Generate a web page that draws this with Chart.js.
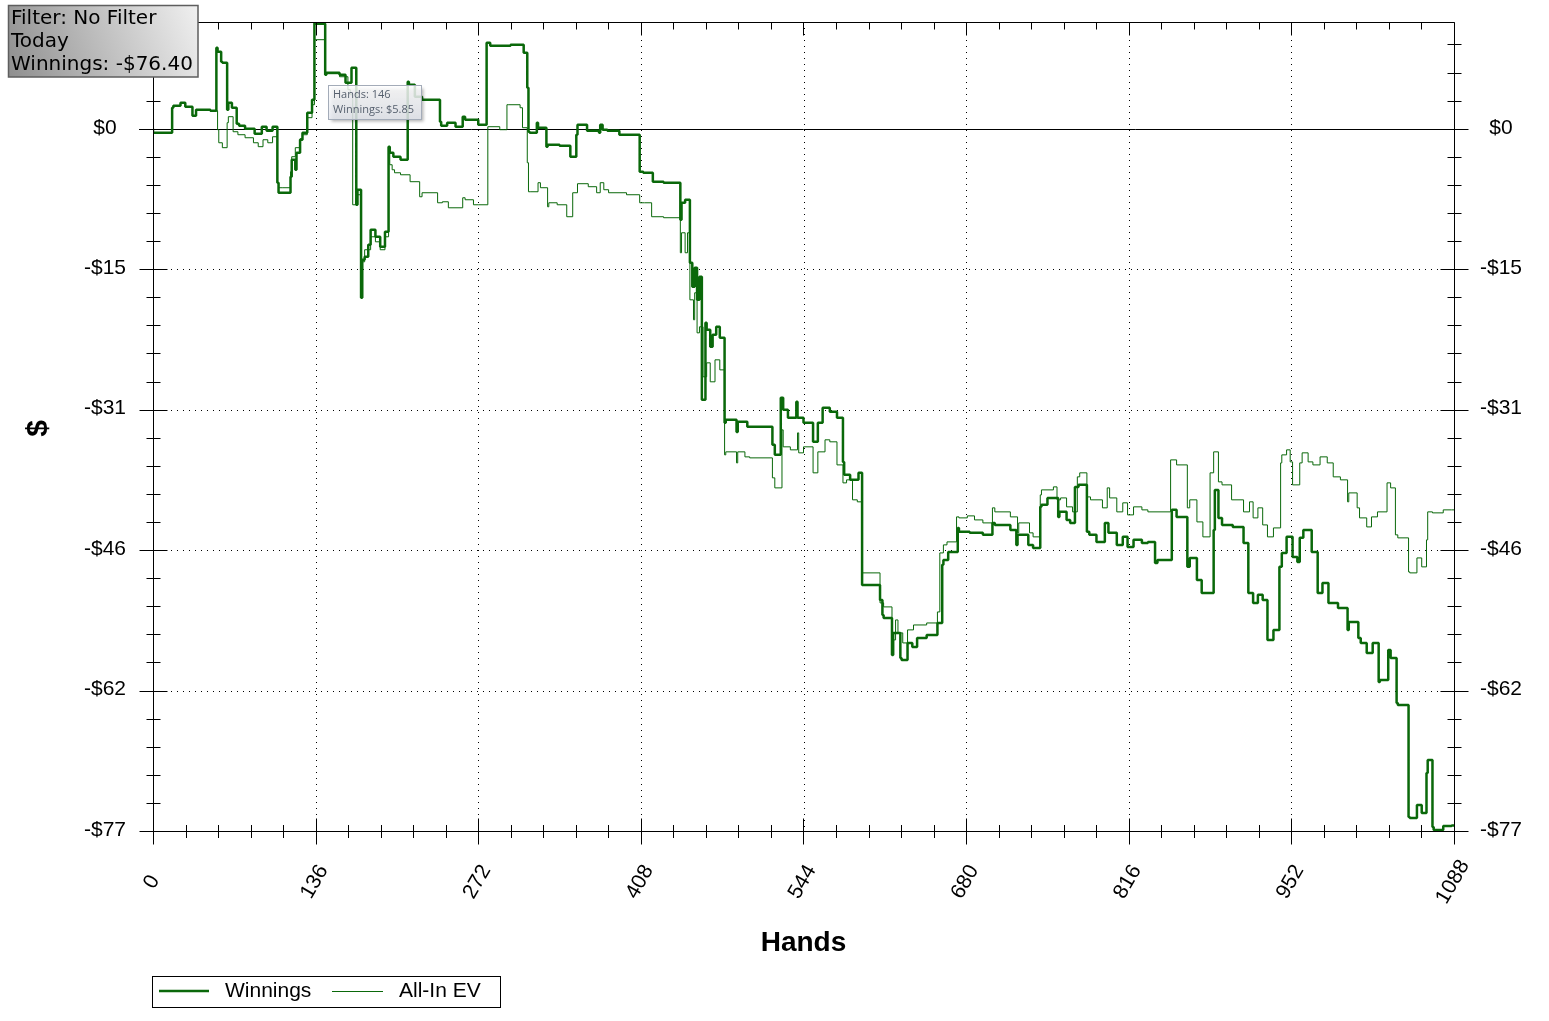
<!DOCTYPE html>
<html>
<head>
<meta charset="utf-8">
<title>Winnings</title>
<script src="https://cdn.jsdelivr.net/npm/chart.js@4.4.0/dist/chart.umd.min.js"></script>
<style>
  html, body { margin: 0; padding: 0; background: #fff; overflow: hidden; }
  canvas { display: block; }
</style>
</head>
<body>
<canvas id="grafico" width="1549" height="1021"></canvas>
<script>
// Hands / dollars
const winHands = [0,6,16,17,23,27,33,36,39,48,53,54,57,58,62,63,66,70,72,77,85,91,95,100,104,105,108,115,116,119,120,123,125,129,133,135,136,144,145,156,161,163,166,167,170,171,174,175,177,180,182,186,190,194,197,198,201,207,213,214,219,225,240,241,246,253,259,261,272,279,282,290,299,310,313,314,315,321,322,329,330,340,349,350,354,355,363,373,374,376,380,390,407,410,418,427,441,442,445,449,451,453,455,457,459,462,463,466,468,471,474,478,479,488,489,497,518,520,525,527,531,538,539,544,552,556,560,566,572,577,578,583,590,593,593,608,610,611,618,619,625,626,631,635,639,647,656,660,661,665,673,674,683,694,702,704,717,722,723,732,736,742,743,748,757,758,764,767,771,774,781,783,789,796,799,806,811,815,820,827,832,838,840,852,856,865,867,873,877,884,887,888,891,894,903,912,916,920,924,928,932,937,942,944,948,953,957,959,962,966,969,974,978,983,991,999,1000,1008,1010,1015,1020,1025,1026,1033,1035,1040,1041,1050,1051,1057,1061,1065,1066,1070,1071,1079,1086,1088];
const winValues = [0,-0.44,-0.44,2.30,2.52,2.85,2.41,1.43,2.08,2.08,1.97,8.88,8.45,7.35,7.24,2.08,2.85,2.30,0.55,0.33,0,-0.55,0.22,-0.22,0.22,-5.92,-7.02,-7.02,-5.27,-3.40,-4.50,-2.63,-1.21,-0.44,1.76,3.18,11.63,11.52,5.92,6.14,5.92,5.05,5.05,6.69,6.69,-8.34,-6.69,-18.54,-14.37,-14.04,-12.72,-11.08,-11.85,-12.94,-11.30,-1.97,-2.63,-3.07,-3.40,5.16,4.83,3.51,3.18,0.77,0.33,0.66,0.22,1.32,0.99,0.44,9.43,9.10,9.10,9.21,8.34,4.50,-0.33,-0.44,0.66,0.11,-1.97,-1.76,-1.86,-3.07,-3.07,-0.66,0.44,-0.22,-0.44,0.44,-0.11,-0.22,-0.66,-4.72,-4.83,-5.81,-5.92,-9.98,-8.12,-7.79,-14.70,-17.33,-15.25,-18.76,-16.23,-29.73,-21.28,-22.05,-23.91,-22.60,-21.72,-22.92,-32.25,-31.92,-33.24,-32.14,-32.69,-34.66,-35.76,-29.51,-30.82,-31.70,-29.95,-31.70,-32.25,-34.33,-32.25,-30.60,-31.04,-31.70,-36.53,-37.95,-38.50,-37.73,-50.02,-50.02,-51.66,-53.31,-53.64,-57.70,-55.28,-58.02,-58.24,-56.38,-56.82,-55.83,-55.50,-54.19,-47.82,-47.28,-46.40,-43.77,-44.20,-44.31,-44.53,-43.22,-43.44,-43.99,-45.63,-44.53,-45.63,-45.96,-41.46,-41.24,-40.48,-42.56,-42.01,-42.89,-43.22,-39.27,-39.05,-44.20,-44.53,-45.30,-43.22,-44.31,-45.63,-44.75,-45.85,-45.08,-45.41,-45.30,-47.61,-47.28,-41.79,-42.56,-48.04,-47.06,-49.47,-50.90,-50.90,-43.99,-39.60,-42.67,-43.44,-43.66,-45.41,-50.90,-51.99,-51.11,-51.66,-56.05,-54.95,-48.04,-46.51,-44.75,-46.95,-47.50,-44.86,-43.99,-43.99,-46.40,-50.90,-49.80,-51.99,-52.54,-54.95,-54.08,-55.83,-56.38,-57.48,-56.38,-60.66,-60.44,-57.15,-58.02,-62.96,-63.18,-75.47,-75.58,-74.15,-75.03,-70.64,-69.21,-76.56,-76.89,-76.45,-76.40];

const evHands = [0,6,16,17,23,27,33,36,39,48,54,55,58,62,63,67,71,77,84,88,92,96,100,104,105,108,115,116,119,123,125,129,133,135,136,144,145,156,163,165,167,171,174,175,177,182,186,190,194,197,198,200,202,207,215,223,225,238,242,247,259,261,268,272,280,281,290,294,296,297,307,309,313,314,316,322,324,330,331,338,346,351,355,364,371,374,377,381,396,407,411,417,427,441,442,445,447,449,452,453,455,457,460,463,466,470,474,478,479,488,489,495,499,518,520,526,527,533,539,540,544,552,556,562,566,572,577,580,585,589,593,593,608,611,618,621,623,627,631,636,647,656,658,661,664,672,674,681,687,694,702,704,717,723,724,733,736,742,743,753,756,759,764,769,773,775,781,784,794,798,800,806,811,815,820,827,832,851,856,865,867,873,878,884,887,891,894,902,912,917,920,924,928,932,937,943,944,948,951,953,959,961,966,970,976,982,987,993,999,1000,1007,1009,1015,1019,1024,1032,1035,1039,1041,1050,1051,1057,1061,1065,1066,1070,1079,1086,1088];
const evValues = [0,-0.44,-0.44,2.30,2.52,2.85,2.41,1.43,2.08,2.08,1.97,-0.11,-1.54,-2.08,0.66,1.32,-0.33,-0.66,-0.99,-1.54,-1.97,-1.21,-1.54,-0.88,-5.92,-6.47,-6.47,-4.72,-3.07,-2.08,-1.10,-0.66,1.21,2.63,9.76,9.76,5.92,6.03,5.70,4.28,3.73,-8.34,-7.24,-17.66,-14.59,-13.27,-11.85,-12.40,-13.27,-11.85,-2.52,-3.95,-4.50,-4.83,-5.05,-5.81,-7.46,-7.02,-8.12,-8.01,-8.67,-7.57,-7.79,-8.34,-8.34,0.22,0.22,-0.11,-0.11,2.63,2.63,2.30,0.11,-3.73,-6.91,-6.91,-5.92,-6.47,-8.56,-8.12,-8.34,-9.65,-7.02,-6.03,-6.36,-7.02,-5.92,-6.69,-7.02,-7.24,-8.12,-8.12,-9.65,-9.76,-13.60,-11.41,-13.60,-11.41,-18.76,-20.95,-17.99,-22.38,-21.72,-27.20,-25.67,-27.75,-25.34,-26.44,-35.76,-35.43,-36.64,-35.43,-35.98,-36.09,-38.28,-39.38,-33.02,-34.88,-35.21,-33.35,-35.54,-34.88,-37.73,-35.43,-34.11,-34.33,-36.86,-38.83,-38.50,-40.69,-40.91,-48.70,-48.70,-51.99,-52.43,-56.05,-53.86,-55.28,-56.38,-54.95,-54.41,-54.19,-52.98,-46.51,-45.63,-45.30,-42.56,-42.67,-42.45,-42.89,-43.22,-41.57,-42.01,-42.56,-44.31,-43.22,-44.31,-44.75,-40.15,-39.60,-39.27,-40.69,-40.48,-41.46,-42.01,-38.17,-37.73,-40.37,-40.69,-41.57,-39.38,-40.48,-42.01,-41.02,-42.34,-41.46,-41.79,-42.01,-36.31,-36.86,-41.57,-40.69,-43.11,-44.75,-37.73,-35.43,-38.72,-39.05,-40.69,-42.01,-40.91,-42.67,-41.57,-43.44,-44.75,-43.77,-36.64,-35.76,-35.21,-36.53,-39.05,-36.64,-35.54,-36.53,-36.86,-35.98,-36.64,-38.17,-38.50,-40.91,-39.93,-41.57,-42.67,-43.66,-42.56,-42.01,-38.83,-39.38,-44.53,-44.86,-48.59,-48.70,-47.06,-48.04,-45.08,-42.01,-42.12,-41.79,-41.79];

const xTicks = [0,136,272,408,544,680,816,952,1088];
const yTicks = [0,-15.4,-30.8,-46.2,-61.6,-77];
const yTickLabels = ['$0','-$15','-$31','-$46','-$62','-$77'];
const infoLines = ['Filter: No Filter','Today','Winnings: -$76.40'];
const tipHand = 146;
const tipValue = 5.85;

const verde = '#0a680a';
const fuente = '"Liberation Sans", Arial, sans-serif';

function linea(ctx, x1, y1, x2, y2) {
  ctx.beginPath();
  ctx.moveTo(x1, y1);
  ctx.lineTo(x2, y2);
  ctx.stroke();
}

// grid, axes, labels and boxes
const marco = {
  id: 'marco',
  beforeDatasetsDraw(chart) {
    const ctx = chart.ctx;
    const a = chart.chartArea;
    const sx = chart.scales.x, sy = chart.scales.y;
    ctx.save();
    ctx.strokeStyle = '#000';
    ctx.lineWidth = 1;
    ctx.setLineDash([1, 5]);
    xTicks.slice(1, -1).forEach(t => {
      const px = Math.round(sx.getPixelForValue(t)) + 0.5;
      linea(ctx, px, a.top, px, a.bottom);
    });
    yTicks.slice(1, -1).forEach(t => {
      const py = Math.round(sy.getPixelForValue(t)) + 0.5;
      linea(ctx, a.left, py, a.right, py);
    });
    ctx.setLineDash([]);
    const y0 = Math.round(sy.getPixelForValue(0)) + 0.5;
    linea(ctx, a.left - 14, y0, a.right + 14, y0);
    ctx.restore();
  },
  afterDatasetsDraw(chart) {
    const ctx = chart.ctx;
    const a = chart.chartArea;
    const sx = chart.scales.x, sy = chart.scales.y;
    const L = a.left + 0.5, R = a.right + 0.5, T = a.top + 0.5, B = a.bottom + 0.5;
    ctx.save();
    ctx.strokeStyle = '#000';
    ctx.lineWidth = 1;
    linea(ctx, L, T, R, T);
    linea(ctx, L, T, L, B);
    linea(ctx, R, T, R, B);
    linea(ctx, L, B, R, B);

    // minor ticks
    const xStep = (xTicks[1] - xTicks[0]) / 5;
    for (let v = xTicks[0]; v <= xTicks[xTicks.length - 1] + 0.01; v += xStep) {
      const px = Math.round(sx.getPixelForValue(v)) + 0.5;
      const major = xTicks.some(t => Math.abs(t - v) < 0.01);
      const k = major ? 13 : 6.5;
      linea(ctx, px, B - k, px, B + k);
      linea(ctx, px, T, px, T + (major ? 13 : 7));
    }
    const yStep = (yTicks[0] - yTicks[1]) / 5;
    for (let v = yTicks[yTicks.length - 1]; v <= sy.max; v += yStep) {
      const py = Math.round(sy.getPixelForValue(v)) + 0.5;
      const major = yTicks.some(t => Math.abs(t - v) < 0.01);
      const k = major ? 14 : 7;
      linea(ctx, L - k, py, L + k, py);
      linea(ctx, R - k, py, R + k, py);
    }

    // tick labels
    ctx.fillStyle = '#000';
    ctx.font = '21px ' + fuente;
    ctx.textAlign = 'center';
    ctx.textBaseline = 'middle';
    yTicks.forEach((t, i) => {
      const py = sy.getPixelForValue(t) - 1;
      ctx.fillText(yTickLabels[i], a.left - 48, py);
      ctx.fillText(yTickLabels[i], a.right + 47, py);
    });
    xTicks.forEach(t => {
      const px = sx.getPixelForValue(t);
      ctx.save();
      ctx.translate(px - 1, a.bottom + 51);
      ctx.rotate(-Math.PI / 3);
      ctx.fillText(String(t), 0, 0);
      ctx.restore();
    });

    // axis titles
    ctx.font = 'bold 28px ' + fuente;
    ctx.fillText('Hands', (a.left + a.right) / 2, a.bottom + 112);
    ctx.save();
    ctx.translate(39, (a.top + a.bottom) / 2 + 2);
    ctx.rotate(-Math.PI / 2);
    ctx.font = 'bold 30px ' + fuente;
    ctx.fillText('$', 0, 0);
    ctx.restore();
    ctx.restore();
  },
  afterDraw(chart) {
    const ctx = chart.ctx;
    const sx = chart.scales.x, sy = chart.scales.y;
    ctx.save();

    // info box
    const g = ctx.createLinearGradient(8, 77, 198, 5);
    g.addColorStop(0, '#8e8e8e');
    g.addColorStop(1, '#f0f0f0');
    ctx.fillStyle = g;
    ctx.fillRect(8, 5, 190, 72);
    ctx.strokeStyle = '#5e5e5e';
    ctx.lineWidth = 1.5;
    ctx.strokeRect(8.5, 5.5, 189.5, 71.5);
    ctx.fillStyle = '#000';
    ctx.font = '20px "DejaVu Sans", sans-serif';
    ctx.textAlign = 'left';
    ctx.textBaseline = 'middle';
    infoLines.forEach((s, i) => ctx.fillText(s, 11, 19 + i * 23));

    // hover tip
    const tx = Math.round(sx.getPixelForValue(tipHand)) + 0.5;
    const ty = Math.round(sy.getPixelForValue(tipValue)) + 10.5;
    ctx.save();
    ctx.shadowColor = 'rgba(0,0,0,0.35)';
    ctx.shadowBlur = 3;
    ctx.shadowOffsetX = 2;
    ctx.shadowOffsetY = 2;
    const g2 = ctx.createLinearGradient(0, ty, 0, ty + 34);
    g2.addColorStop(0, 'rgba(255,255,255,0.82)');
    g2.addColorStop(1, 'rgba(228,231,238,0.85)');
    ctx.fillStyle = g2;
    ctx.fillRect(tx, ty, 93, 34);
    ctx.restore();
    ctx.strokeStyle = '#a3abb8';
    ctx.lineWidth = 1;
    ctx.strokeRect(tx, ty, 93, 34);
    ctx.fillStyle = '#56606e';
    ctx.font = '11px "Open Sans", sans-serif';
    ctx.fillText('Hands: ' + tipHand, tx + 4.5, ty + 9);
    ctx.fillText('Winnings: $' + tipValue.toFixed(2), tx + 4.5, ty + 24);

    // legend
    ctx.fillStyle = '#fff';
    ctx.fillRect(152.5, 976.5, 348, 31);
    ctx.strokeStyle = '#000';
    ctx.lineWidth = 1;
    ctx.strokeRect(152.5, 976.5, 348, 31);
    ctx.strokeStyle = verde;
    ctx.lineWidth = 2.5;
    linea(ctx, 159, 991, 209, 991);
    ctx.lineWidth = 1;
    linea(ctx, 332, 991.5, 383, 991.5);
    ctx.fillStyle = '#000';
    ctx.font = '21px ' + fuente;
    ctx.fillText('Winnings', 225, 991);
    ctx.fillText('All-In EV', 399, 991);
    ctx.restore();
  }
};

document.addEventListener('DOMContentLoaded', function() {
  const ctx = document.getElementById('grafico').getContext('2d');
  new Chart(ctx, {
    type: 'line',
    data: {
      datasets: [{
        label: 'Winnings',
        data: winHands.map((h, i) => ({ x: h, y: winValues[i] })),
        borderColor: verde,
        borderWidth: 2.5,
        borderJoinStyle: 'bevel',
        stepped: 'after',
        pointRadius: 0
      }, {
        label: 'All-In EV',
        data: evHands.map((h, i) => ({ x: h, y: evValues[i] })),
        borderColor: verde,
        borderWidth: 1,
        borderJoinStyle: 'bevel',
        stepped: 'after',
        pointRadius: 0
      }]
    },
    options: {
      responsive: false,
      animation: false,
      devicePixelRatio: 1,
      layout: { padding: { left: 153, right: 95, top: 22, bottom: 190 } },
      plugins: {
        legend: { display: false },
        tooltip: { enabled: false }
      },
      scales: {
        x: { type: 'linear', min: 0, max: 1088, display: false },
        y: { min: -77, max: 11.7, display: false }
      }
    },
    plugins: [marco]
  });
});
</script>
</body>
</html>
